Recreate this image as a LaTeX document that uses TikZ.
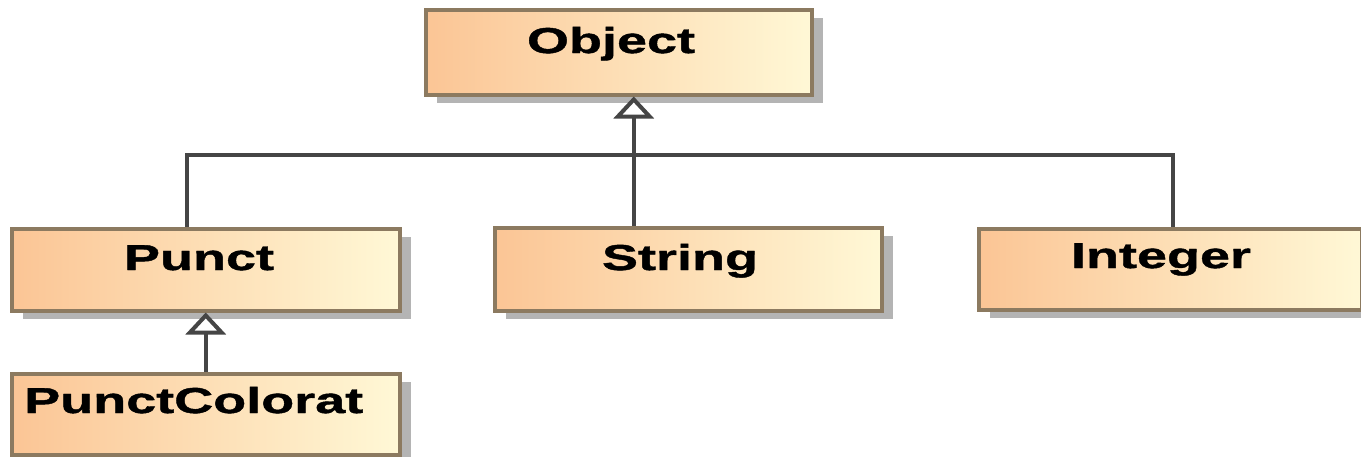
\documentclass[tikz,border=0pt]{standalone}
\usepackage{fontspec}
\newfontfamily\umlfont[FakeStretch=1.5, BoldFeatures={FakeBold=1.2}]{Liberation Sans}
\usetikzlibrary{arrows.meta,shadows}
\definecolor{boxedge}{HTML}{8C7A60}
\definecolor{boxleft}{HTML}{FBC595}
\definecolor{boxright}{HTML}{FFF8D6}
\definecolor{wirecol}{HTML}{454545}
\definecolor{shadecol}{HTML}{B4B4B4}
\tikzset{
  classbox/.style={rectangle, draw=boxedge, line width=3.5pt, left color=boxleft,
    right color=boxright, inner sep=0pt, anchor=north west,
    drop shadow={shadow xshift=11pt, shadow yshift=-8pt, fill=shadecol, opacity=1}},
  classname/.style={font=\umlfont\fontsize{36}{40}\selectfont\bfseries, anchor=base,
    inner sep=0pt, text=black},
  wire/.style={draw=wirecol, line width=4pt},
  inherits/.style={wire, -{Triangle[open, length=22pt, width=40pt, fill=white]}},
}
\begin{document}
\begin{tikzpicture}[x=1pt, y=-1pt]
  \useasboundingbox (0,0) rectangle (1361,456);

  % class boxes
  \node[classbox, minimum width=386pt, minimum height=85pt] (object) at (424,8) {};
  \node[classbox, minimum width=388pt, minimum height=82pt] (punct) at (10,227) {};
  \node[classbox, minimum width=387pt, minimum height=83pt] (string) at (493,226) {};
  \node[classbox, minimum width=383pt, minimum height=81pt] (integer) at (977,227) {};
  \node[classbox, minimum width=388pt, minimum height=81pt] (punctcolorat) at (10,372) {};

  % class names
  \node[classname] (object-name) at (611,53) {Object};
  \node[classname] (punct-name) at (199,270) {Punct};
  \node[classname] (string-name) at (680,270) {String};
  \node[classname] (integer-name) at (1161,268) {Integer};
  \node[classname, anchor=base west] (punctcolorat-name) at (24,413) {PunctColorat};

  % generalization tree
  \coordinate (hub) at (632,155);
  \draw[inherits] ([xshift=-54.5pt]string.north) -- ([xshift=-54.5pt]string.north |- object.south);
  \draw[wire] ([xshift=-19pt]punct.north) |- (hub) -| ([xshift=2.5pt]integer.north);
  \draw[inherits] (punctcolorat.north) -- (punct.south);
\end{tikzpicture}
\end{document}
